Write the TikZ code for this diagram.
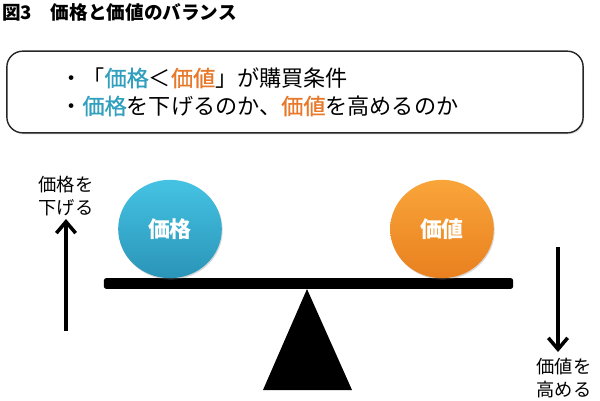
\documentclass[tikz,border=0pt]{standalone}
\usepackage{fontspec}
\setmainfont{Noto Sans CJK JP}
\newfontfamily\medfont{Noto Sans CJK JP}[FakeBold=0.8]
\usetikzlibrary{arrows.meta,shadows,shapes.geometric}
\definecolor{kblue}{HTML}{31A0BE}
\definecolor{korange}{HTML}{E8792A}
\definecolor{ballblueT}{HTML}{45C3E3}
\definecolor{ballblueB}{HTML}{2A94B8}
\definecolor{ballorT}{HTML}{F9A53A}
\definecolor{ballorB}{HTML}{E9801F}
\newcommand{\kb}[1]{\textcolor{kblue}{\medfont #1}}
\newcommand{\ko}[1]{\textcolor{korange}{\medfont #1}}
\tikzset{
  ball/.style={ellipse, minimum width=59pt, minimum height=56pt, text=white, font=\bfseries\fontsize{12.5}{14}\selectfont, drop shadow={shadow xshift=0.5pt, shadow yshift=-0.8pt, opacity=0.3}},
  sidelabel/.style={align=center, font=\fontsize{10.4}{13}\selectfont, inner sep=0pt},
  movearrow/.style={line width=2pt, -{Straight Barb[length=6.5pt, width=11pt, line width=2pt]}},
  boxline/.style={anchor=west, inner sep=0pt, font=\fontsize{12.6}{14}\selectfont},
}
\begin{document}
\begin{tikzpicture}[x=0.02cm, y=-0.02cm]
\useasboundingbox (0,0) rectangle (600,400);
% title
\node[anchor=west, inner sep=0pt, font=\bfseries\fontsize{10.6}{12}\selectfont] (title) at (2,12) {図3\hspace{1em}価格と価値のバランス};
% box
\node[draw=black!85, line width=0.8pt, rounded corners=9pt, minimum width=328pt, minimum height=46.5pt, fill=white, drop shadow={shadow xshift=0.6pt, shadow yshift=-0.8pt, opacity=0.25}] (box) at (295,92) {};
\node[boxline] (l1) at (60,78) {・「\kb{価格}＜\ko{価値}」が購買条件};
\node[boxline] (l2) at (60,106) {・\kb{価格}を下げるのか、\ko{価値}を高めるのか};
% beam
\node[fill=black, rounded corners=1.5pt, minimum width=233pt, minimum height=6.2pt, inner sep=0pt] (beam) at (308.5,283.5) {};
% fulcrum
\coordinate (apex) at (307,289);
\fill (apex) -- (352,390) -- (263,390) -- cycle;
% balls
\node[ball, top color=ballblueT, bottom color=ballblueB] (price) at (170,229) {価格};
\node[ball, top color=ballorT, bottom color=ballorB] (value) at (442,229) {価値};
% left arrow
\coordinate (la0) at (66,331);
\coordinate (la1) at (66,219);
\draw[movearrow] (la0) -- (la1);
\node[sidelabel] (lt) at (66,196) {価格を\\下げる};
% right arrow
\coordinate (ra0) at (558,247);
\coordinate (ra1) at (558,352);
\draw[movearrow] (ra0) -- (ra1);
\node[sidelabel] (rt) at (564,378) {価値を\\高める};
\end{tikzpicture}
\end{document}
